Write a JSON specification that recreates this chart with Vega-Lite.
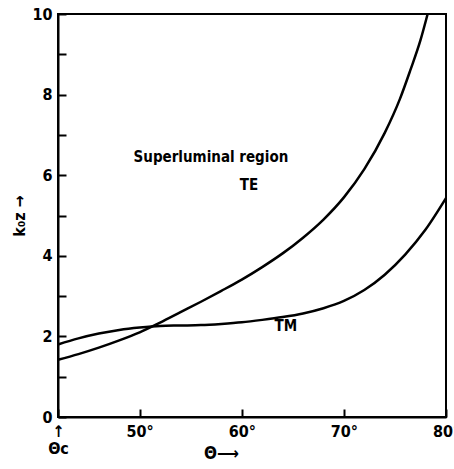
{
  "$schema": "https://vega.github.io/schema/vega-lite/v6.json",
  "width": 388,
  "height": 403,
  "autosize": "none",
  "padding": {"left": 58, "top": 14, "right": 8, "bottom": 52},
  "background": "white",
  "config": {
    "view": {"stroke": "black", "strokeWidth": 2},
    "font": "DejaVu Sans Condensed, DejaVu Sans"
  },
  "datasets": {
    "curves": [
      {"theta": 42, "k0z": 1.8, "mode": "TM"},
      {"theta": 44, "k0z": 1.95, "mode": "TM"},
      {"theta": 46, "k0z": 2.07, "mode": "TM"},
      {"theta": 48, "k0z": 2.16, "mode": "TM"},
      {"theta": 50, "k0z": 2.22, "mode": "TM"},
      {"theta": 52, "k0z": 2.26, "mode": "TM"},
      {"theta": 54, "k0z": 2.27, "mode": "TM"},
      {"theta": 56, "k0z": 2.28, "mode": "TM"},
      {"theta": 58, "k0z": 2.31, "mode": "TM"},
      {"theta": 60, "k0z": 2.35, "mode": "TM"},
      {"theta": 62, "k0z": 2.41, "mode": "TM"},
      {"theta": 64, "k0z": 2.48, "mode": "TM"},
      {"theta": 66, "k0z": 2.57, "mode": "TM"},
      {"theta": 68, "k0z": 2.7, "mode": "TM"},
      {"theta": 70, "k0z": 2.88, "mode": "TM"},
      {"theta": 72, "k0z": 3.15, "mode": "TM"},
      {"theta": 74, "k0z": 3.53, "mode": "TM"},
      {"theta": 76, "k0z": 4.03, "mode": "TM"},
      {"theta": 78, "k0z": 4.65, "mode": "TM"},
      {"theta": 80, "k0z": 5.43, "mode": "TM"},
      {"theta": 42, "k0z": 1.42, "mode": "TE"},
      {"theta": 44, "k0z": 1.56, "mode": "TE"},
      {"theta": 46, "k0z": 1.72, "mode": "TE"},
      {"theta": 48, "k0z": 1.9, "mode": "TE"},
      {"theta": 50, "k0z": 2.1, "mode": "TE"},
      {"theta": 52, "k0z": 2.34, "mode": "TE"},
      {"theta": 54, "k0z": 2.6, "mode": "TE"},
      {"theta": 56, "k0z": 2.86, "mode": "TE"},
      {"theta": 58, "k0z": 3.13, "mode": "TE"},
      {"theta": 60, "k0z": 3.41, "mode": "TE"},
      {"theta": 62, "k0z": 3.72, "mode": "TE"},
      {"theta": 64, "k0z": 4.06, "mode": "TE"},
      {"theta": 66, "k0z": 4.45, "mode": "TE"},
      {"theta": 68, "k0z": 4.9, "mode": "TE"},
      {"theta": 70, "k0z": 5.45, "mode": "TE"},
      {"theta": 72, "k0z": 6.15, "mode": "TE"},
      {"theta": 74, "k0z": 7.05, "mode": "TE"},
      {"theta": 75.5, "k0z": 7.9, "mode": "TE"},
      {"theta": 76.5, "k0z": 8.6, "mode": "TE"},
      {"theta": 77.5, "k0z": 9.35, "mode": "TE"},
      {"theta": 78.2, "k0z": 10, "mode": "TE"}
    ],
    "labels": [
      {"theta": 49.4, "k0z": 6.45, "text": "Superluminal  region"},
      {"theta": 59.8, "k0z": 5.75, "text": "TE"},
      {"theta": 63.2, "k0z": 2.26, "text": "TM"}
    ]
  },
  "layer": [
    {
      "data": {"name": "curves"},
      "mark": {"type": "line", "color": "black", "strokeWidth": 2.5, "interpolate": "monotone"},
      "encoding": {
        "x": {
          "field": "theta", "type": "quantitative",
          "scale": {"domain": [42, 80], "nice": false, "zero": false},
          "axis": {
            "values": [42, 50, 60, 70, 80],
            "labelExpr": "datum.value == 42 ? ['↑', 'Θc'] : datum.label + '°'",
            "grid": false, "zindex": 1,
            "domainColor": "black", "domainWidth": 2,
            "tickColor": "black", "tickWidth": 2, "tickSize": -8,
            "labelFontSize": 16, "labelFontWeight": "bold", "labelColor": "black",
            "labelPadding": 14, "labelFlush": false, "labelLineHeight": 17,
            "title": "Θ⟶", "titleFontSize": 17, "titleFontWeight": "bold", "titleColor": "black",
            "titleX": 163, "titleY": 28, "titleAlign": "center"
          }
        },
        "y": {
          "field": "k0z", "type": "quantitative",
          "scale": {"domain": [0, 10], "nice": false},
          "axis": {
            "values": [0, 1, 2, 3, 4, 5, 6, 7, 8, 9, 10],
            "labelExpr": "datum.value % 2 == 0 ? datum.label : ''",
            "grid": false, "zindex": 1,
            "domainColor": "black", "domainWidth": 2,
            "tickColor": "black", "tickWidth": 2, "tickSize": -8,
            "labelFontSize": 16, "labelFontWeight": "bold", "labelColor": "black",
            "labelPadding": 14, "labelFlush": false,
            "title": "k₀z →", "titleFontSize": 16, "titleFontWeight": "bold", "titleColor": "black",
            "titlePadding": 4
          }
        },
        "detail": {"field": "mode"}
      }
    },
    {
      "data": {"name": "labels"},
      "mark": {"type": "text", "align": "left", "baseline": "middle", "fontSize": 15, "fontWeight": "bold", "color": "black"},
      "encoding": {
        "x": {"field": "theta", "type": "quantitative"},
        "y": {"field": "k0z", "type": "quantitative"},
        "text": {"field": "text"}
      }
    }
  ]
}
